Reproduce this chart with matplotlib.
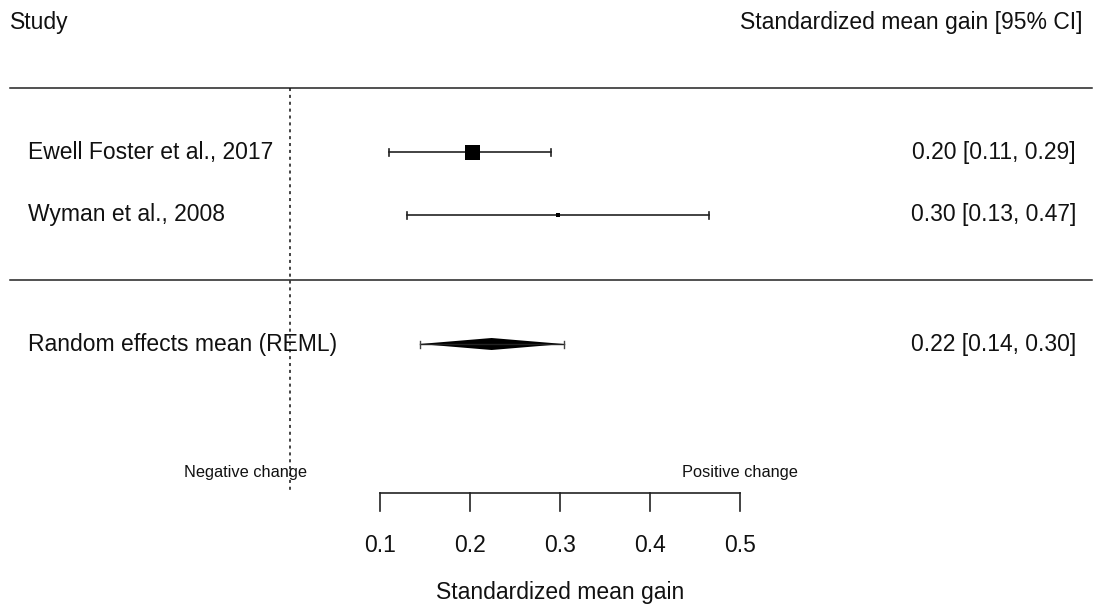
import matplotlib.pyplot as plt
from matplotlib.patches import Polygon

plt.rcParams['font.family'] = ['Liberation Sans', 'DejaVu Sans']

# study estimates (standardized mean gain) with 95% CI
studies = ['Ewell Foster et al., 2017', 'Wyman et al., 2008']
est = [0.202, 0.298]
lo = [0.11, 0.13]
hi = [0.29, 0.466]
weights = [15, 4]          # marker size in px, reflects study weight

# pooled random effects estimate
pooled_label = 'Random effects mean (REML)'
pooled = [0.224, 0.144, 0.304]

xticks = [0.1, 0.2, 0.3, 0.4, 0.5]

W, H = 1095, 614
fig = plt.figure(figsize=(W / 100, H / 100), dpi=100)
ax = fig.add_axes([0, 0, 1, 1])
# x in effect units (0 at px 290, 0.1 per 90 px), y in px from top
x0, scale = 290, 900
ax.set_xlim(-x0 / scale, (W - x0) / scale)
ax.set_ylim(H, 0)
ax.axis('off')

def xv(p):
    return (p - x0) / scale

big = 16.5
small = 11.8
col = '#111111'

# headers
ax.text(xv(10), 22, 'Study', fontsize=big, ha='left', va='center', color=col)
ax.text(xv(1083), 22, 'Standardized mean gain [95% CI]', fontsize=big,
        ha='right', va='center', color=col)

# separators
for y in (88, 280):
    ax.plot([xv(10), xv(1092)], [y, y], color='#222222', lw=1.1)

# null line
ax.plot([0, 0], [88, 493], color=col, lw=1.1, dashes=(2, 2.5))

rows_y = [152, 215]
cap = 3.5
for name, m, l, h, w, y in zip(studies, est, lo, hi, weights, rows_y):
    ax.text(xv(28), y, name, fontsize=big, ha='left', va='center', color=col)
    ax.plot([l, h], [y, y], color='#222222', lw=1.2)
    for e in (l, h):
        ax.plot([e, e], [y - cap, y + cap], color='#222222', lw=1.2)
    ax.plot(m, y, marker='s', ms=w * 0.72, color='black', mec='black', mew=0)
    ax.text(xv(1076), y, f'{m:.2f} [{l:.2f}, {h:.2f}]', fontsize=big,
            ha='right', va='center', color=col)

# pooled diamond
yp = 344
m, l, h = pooled
ax.text(xv(28), yp, pooled_label, fontsize=big, ha='left', va='center', color=col)
ax.add_patch(Polygon([[l, yp], [m, yp - 6], [h, yp], [m, yp + 6]],
                     closed=True, color='black', lw=0))
ax.plot([l, h], [yp, yp], color='#222222', lw=1.0)
for e in (l, h):
    ax.plot([e, e], [yp - cap, yp + cap], color='#444444', lw=1.0)
ax.text(xv(1076), yp, f'{m:.2f} [{l:.2f}, {h:.2f}]', fontsize=big,
        ha='right', va='center', color=col)

# direction labels
ax.text(xv(245), 472, 'Negative change', fontsize=small, ha='center',
        va='center', color=col)
ax.text(xv(740), 472, 'Positive change', fontsize=small, ha='center',
        va='center', color=col)

# x axis
ya = 493
ax.plot([xticks[0], xticks[-1]], [ya, ya], color='#222222', lw=1.2)
for t in xticks:
    ax.plot([t, t], [ya, ya + 18], color='#222222', lw=1.2)
    ax.text(t, 546, f'{t:.1f}', fontsize=big, ha='center', va='center', color=col)
ax.text((xticks[0] + xticks[-1]) / 2, 593, 'Standardized mean gain',
        fontsize=big, ha='center', va='center', color=col)

fig.savefig('out.png', dpi=100, facecolor='white')
